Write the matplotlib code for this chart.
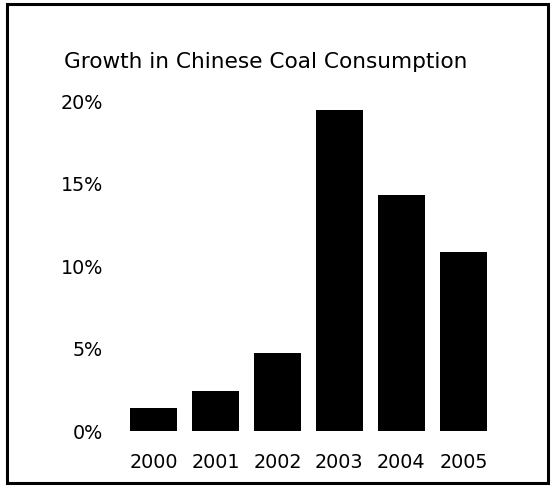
import matplotlib.pyplot as plt
from matplotlib.patches import Rectangle

years = ["2000", "2001", "2002", "2003", "2004", "2005"]
growth = [1.4, 2.4, 4.7, 19.45, 14.3, 10.85]
yticks = [0, 5, 10, 15, 20]
ylabels = ["0%", "5%", "10%", "15%", "20%"]

fig = plt.figure(figsize=(5.55, 4.88), dpi=100)
ax = fig.add_axes([0.2207, 0.1168, 0.670, 0.676])

ax.bar(range(len(years)), growth, width=0.76, color="black")
ax.set_xlim(-0.5, len(years) - 0.5)
ax.set_ylim(0, 20)
ax.set_xticks(range(len(years)))
ax.set_xticklabels(years, fontsize=13.8)
ax.set_yticks(yticks)
ax.set_yticklabels(ylabels, fontsize=13.8)
ax.tick_params(length=0)
ax.tick_params(axis="x", pad=16)
ax.tick_params(axis="y", pad=14)
for s in ax.spines.values():
    s.set_visible(False)

fig.text(0.478, 0.873, "Growth in Chinese Coal Consumption", ha="center", va="center", fontsize=15.6)

# frame around the whole picture
fig.patches.append(Rectangle((0.013, 0.01), 0.975, 0.981, transform=fig.transFigure,
                             fill=False, edgecolor="black", linewidth=2.2))

fig.savefig("out.png", dpi=100)
